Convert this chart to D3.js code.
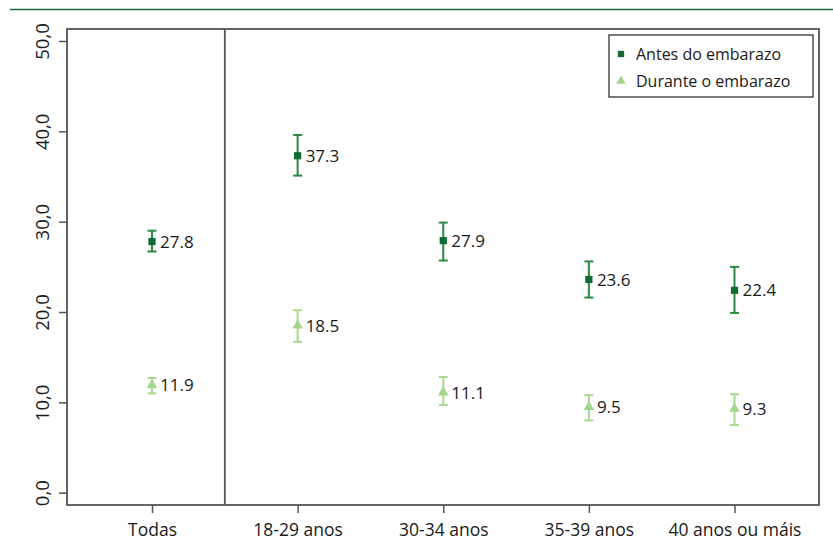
<!DOCTYPE html>
<html>
<head>
<meta charset="utf-8">
<script src="https://cdn.jsdelivr.net/npm/d3@7"></script>
<style>
  body { margin: 0; background: #fff; }
  text { font-family: "Open Sans", sans-serif; fill: #1a1a1a; }
</style>
</head>
<body>
<svg id="chart" width="833" height="555"></svg>
<script>
// categories and values
const categories = ["Todas", "18-29 anos", "30-34 anos", "35-39 anos", "40 anos ou máis"];
const antes = [27.8, 37.3, 27.9, 23.6, 22.4];
const antesLow = [26.7, 35.1, 25.7, 21.6, 19.9];
const antesHigh = [29.0, 39.6, 29.9, 25.6, 25.0];
const durante = [11.9, 18.5, 11.1, 9.5, 9.3];
const duranteLow = [11.0, 16.7, 9.7, 8.0, 7.5];
const duranteHigh = [12.7, 20.2, 12.8, 10.8, 10.9];
const yTicks = [0, 10, 20, 30, 40, 50];
const seriesNames = ["Antes do embarazo", "Durante o embarazo"];

const frame = { left: 67, right: 819, top: 29, bottom: 505 };
const svg = d3.select("#chart");

const y = d3.scaleLinear().domain([0, 50]).range([492.7, 41]);
const x = d3.scalePoint().domain(categories).range([152, 734.5]);

const darkCol = "#0f6b32", darkBar = "#2a8a40";
const lightCol = "#a3d58c", lightBar = "#a8d893";
const frameCol = "#555";

// top rule
svg.append("line")
  .attr("x1", 10).attr("x2", 833).attr("y1", 9.5).attr("y2", 9.5)
  .attr("stroke", "#1c6d34").attr("stroke-width", 1.5);

// frame
svg.append("rect")
  .attr("x", frame.left).attr("y", frame.top)
  .attr("width", frame.right - frame.left).attr("height", frame.bottom - frame.top)
  .attr("fill", "none").attr("stroke", frameCol).attr("stroke-width", 1.8);

// separator between Todas and age groups
const sepX = (x(categories[0]) + x(categories[1])) / 2;
svg.append("line")
  .attr("x1", sepX).attr("x2", sepX).attr("y1", frame.top).attr("y2", frame.bottom)
  .attr("stroke", frameCol).attr("stroke-width", 1.8);

// y axis
const yAxis = d3.axisLeft(y).tickValues(yTicks).tickSize(8).tickFormat(d => d3.format(".1f")(d).replace(".", ","));
const gy = svg.append("g").attr("transform", `translate(${frame.left},0)`).call(yAxis);
gy.select(".domain").remove();
gy.selectAll(".tick line").attr("stroke", frameCol).attr("stroke-width", 1.5);
gy.selectAll(".tick text")
  .attr("x", null).attr("dy", null)
  .attr("transform", "translate(-18,0) rotate(-90)")
  .attr("text-anchor", "middle")
  .style("font-size", "18.5px");

// x axis
const xAxis = d3.axisBottom(x).tickSize(8).tickPadding(11);
const gx = svg.append("g").attr("transform", `translate(0,${frame.bottom})`).call(xAxis);
gx.select(".domain").remove();
gx.selectAll(".tick line").attr("stroke", frameCol).attr("stroke-width", 1.5);
gx.selectAll(".tick text").style("font-size", "17.5px");

// error bars + markers
function drawSeries(vals, lo, hi, col, barCol, shape) {
  const g = svg.append("g");
  const cap = 4.5;
  categories.forEach((c, i) => {
    const cx = x(c);
    g.append("line").attr("x1", cx).attr("x2", cx).attr("y1", y(lo[i])).attr("y2", y(hi[i]))
      .attr("stroke", barCol).attr("stroke-width", 2);
    [lo[i], hi[i]].forEach(v => {
      g.append("line").attr("x1", cx - cap).attr("x2", cx + cap).attr("y1", y(v)).attr("y2", y(v))
        .attr("stroke", barCol).attr("stroke-width", 2);
    });
    g.append("path")
      .attr("d", d3.symbol().type(shape).size(shape === d3.symbolSquare ? 52 : 48)())
      .attr("transform", `translate(${cx},${y(vals[i])})`)
      .attr("fill", col);
    g.append("text")
      .attr("x", cx + 8).attr("y", y(vals[i]))
      .attr("dy", "0.36em")
      .style("font-size", "17px")
      .text(d3.format(".1f")(vals[i]));
  });
}
drawSeries(antes, antesLow, antesHigh, darkCol, darkBar, d3.symbolSquare);
drawSeries(durante, duranteLow, duranteHigh, lightCol, lightBar, d3.symbolTriangle);

// legend
const lg = svg.append("g");
lg.append("rect").attr("x", 609).attr("y", 35).attr("width", 204).attr("height", 62)
  .attr("fill", "#fff").attr("stroke", "#333").attr("stroke-width", 1.3);
const legendShapes = [d3.symbolSquare, d3.symbolTriangle];
const legendCols = [darkCol, lightCol];
seriesNames.forEach((name, i) => {
  const yy = 54 + i * 27;
  lg.append("path")
    .attr("d", d3.symbol().type(legendShapes[i]).size(40)())
    .attr("transform", `translate(621,${yy})`)
    .attr("fill", legendCols[i]);
  lg.append("text").attr("x", 636).attr("y", yy).attr("dy", "0.36em")
    .style("font-size", "16px").text(name);
});
</script>
</body>
</html>
